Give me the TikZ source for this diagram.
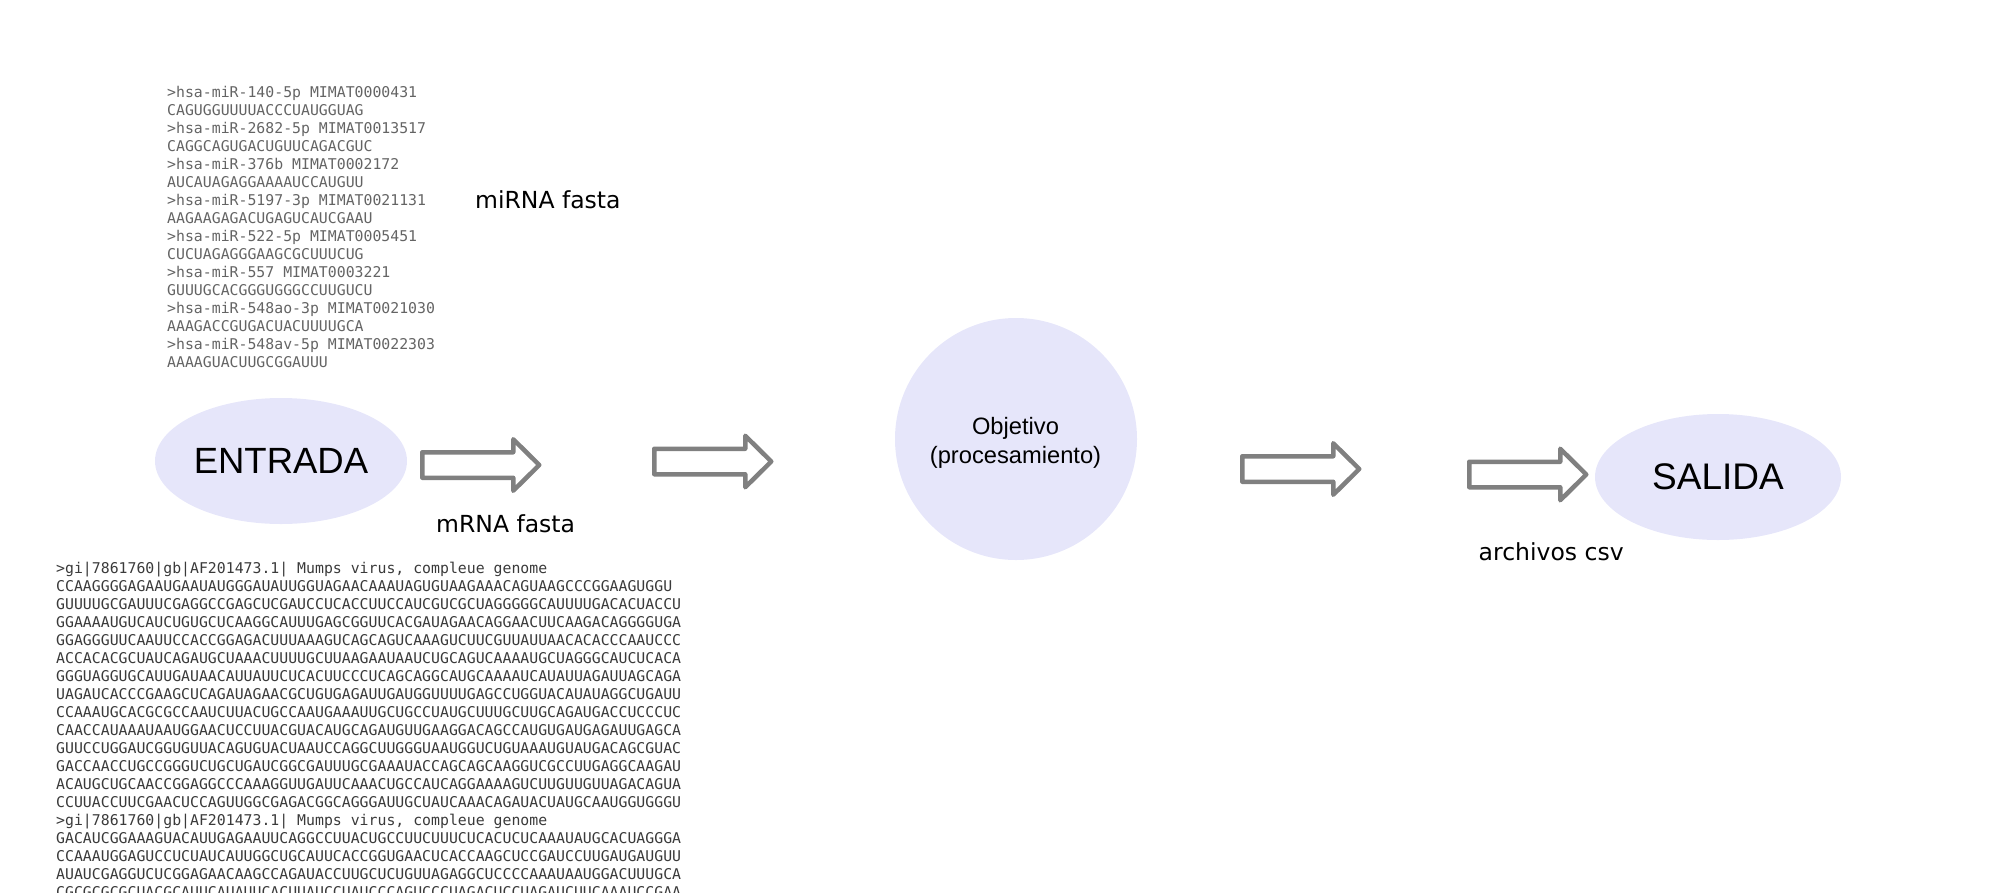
\documentclass[tikz,border=0pt]{standalone}
\usepackage{fontspec}
\setmainfont{Liberation Sans}
\newfontfamily\monof{DejaVu Sans Mono}
\newfontfamily\labf{DejaVu Sans}
\newfontfamily\arialf{Liberation Sans}
\usetikzlibrary{shapes.geometric}
\definecolor{lav}{RGB}{230,230,250}
\definecolor{arrgray}{RGB}{128,128,128}
\definecolor{mirgray}{RGB}{100,100,100}
\definecolor{mrgray}{RGB}{58,58,58}
\tikzset{
  mir/.style={anchor=base west, inner sep=0pt, font=\monof\fontsize{14.83}{18}\selectfont, text=mirgray},
  mr/.style={anchor=base west, inner sep=0pt, font=\monof\fontsize{14.83}{18}\selectfont, text=mrgray},
  lab/.style={anchor=base west, inner sep=0pt, font=\labf\fontsize{23.5}{28}\selectfont, text=black},
  blob/.style={ellipse, fill=lav, inner sep=0pt},
  bigtext/.style={font=\arialf\fontsize{36.5}{40}\selectfont, text=black},
  objtextstyle/.style={align=center, inner sep=0pt, font=\arialf\fontsize{23.7}{29}\selectfont, text=black},
  arrowline/.style={draw=arrgray, line width=4.5pt, line join=round},
  blockarrow/.pic={\draw[arrowline] (0,-12.75) -- (91,-12.75) -- (91,-25.75) -- (117,0) -- (91,25.75) -- (91,12.75) -- (0,12.75) -- cycle;}
}
\begin{document}
\begin{tikzpicture}[x=1pt,y=-1pt]
\useasboundingbox (0,0) rectangle (2000,892);
\clip (0,0) rectangle (2000,892);

% miRNA fasta block
\foreach \t [count=\i from 0] in {
{>hsa-miR-140-5p MIMAT0000431},
{CAGUGGUUUUACCCUAUGGUAG},
{>hsa-miR-2682-5p MIMAT0013517},
{CAGGCAGUGACUGUUCAGACGUC},
{>hsa-miR-376b MIMAT0002172},
{AUCAUAGAGGAAAAUCCAUGUU},
{>hsa-miR-5197-3p MIMAT0021131},
{AAGAAGAGACUGAGUCAUCGAAU},
{>hsa-miR-522-5p MIMAT0005451},
{CUCUAGAGGGAAGCGCUUUCUG},
{>hsa-miR-557 MIMAT0003221},
{GUUUGCACGGGUGGGCCUUGUCU},
{>hsa-miR-548ao-3p MIMAT0021030},
{AAAGACCGUGACUACUUUUGCA},
{>hsa-miR-548av-5p MIMAT0022303},
{AAAAGUACUUGCGGAUUU}}
  \node[mir] (mi\i) at (167,{97+18*\i}) {\t};

% mRNA fasta block
\foreach \t [count=\i from 0] in {
{>gi|7861760|gb|AF201473.1| Mumps virus, compleue genome},
{CCAAGGGGAGAAUGAAUAUGGGAUAUUGGUAGAACAAAUAGUGUAAGAAACAGUAAGCCCGGAAGUGGU},
{GUUUUGCGAUUUCGAGGCCGAGCUCGAUCCUCACCUUCCAUCGUCGCUAGGGGGCAUUUUGACACUACCU},
{GGAAAAUGUCAUCUGUGCUCAAGGCAUUUGAGCGGUUCACGAUAGAACAGGAACUUCAAGACAGGGGUGA},
{GGAGGGUUCAAUUCCACCGGAGACUUUAAAGUCAGCAGUCAAAGUCUUCGUUAUUAACACACCCAAUCCC},
{ACCACACGCUAUCAGAUGCUAAACUUUUGCUUAAGAAUAAUCUGCAGUCAAAAUGCUAGGGCAUCUCACA},
{GGGUAGGUGCAUUGAUAACAUUAUUCUCACUUCCCUCAGCAGGCAUGCAAAAUCAUAUUAGAUUAGCAGA},
{UAGAUCACCCGAAGCUCAGAUAGAACGCUGUGAGAUUGAUGGUUUUGAGCCUGGUACAUAUAGGCUGAUU},
{CCAAAUGCACGCGCCAAUCUUACUGCCAAUGAAAUUGCUGCCUAUGCUUUGCUUGCAGAUGACCUCCCUC},
{CAACCAUAAAUAAUGGAACUCCUUACGUACAUGCAGAUGUUGAAGGACAGCCAUGUGAUGAGAUUGAGCA},
{GUUCCUGGAUCGGUGUUACAGUGUACUAAUCCAGGCUUGGGUAAUGGUCUGUAAAUGUAUGACAGCGUAC},
{GACCAACCUGCCGGGUCUGCUGAUCGGCGAUUUGCGAAAUACCAGCAGCAAGGUCGCCUUGAGGCAAGAU},
{ACAUGCUGCAACCGGAGGCCCAAAGGUUGAUUCAAACUGCCAUCAGGAAAAGUCUUGUUGUUAGACAGUA},
{CCUUACCUUCGAACUCCAGUUGGCGAGACGGCAGGGAUUGCUAUCAAACAGAUACUAUGCAAUGGUGGGU},
{>gi|7861760|gb|AF201473.1| Mumps virus, compleue genome},
{GACAUCGGAAAGUACAUUGAGAAUUCAGGCCUUACUGCCUUCUUUCUCACUCUCAAAUAUGCACUAGGGA},
{CCAAAUGGAGUCCUCUAUCAUUGGCUGCAUUCACCGGUGAACUCACCAAGCUCCGAUCCUUGAUGAUGUU},
{AUAUCGAGGUCUCGGAGAACAAGCCAGAUACCUUGCUCUGUUAGAGGCUCCCCAAAUAAUGGACUUUGCA},
{CGCGCGCGCUACGCAUUCAUAUUCACUUAUCCUAUCCCAGUCCCUAGACUCCUAGAUCUUCAAAUCCGAA}}
  \node[mr] (mr\i) at (56,{573.5+18*\i}) {\t};

% main nodes
\node[blob, bigtext, minimum width=252pt, minimum height=126pt] (entrada) at (281,461) {ENTRADA};
\node[circle, fill=lav, minimum size=242pt, inner sep=0pt] (obj) at (1016,439) {};
\node[objtextstyle] (objtxt) at (1015.5,442.4) {Objetivo\\(procesamiento)};
\node[blob, bigtext, font=\arialf\fontsize{37}{40}\selectfont, minimum width=246pt, minimum height=126pt] (salida) at (1718,477) {SALIDA};

% labels
\node[lab] (lmirna) at (475,208) {miRNA fasta};
\node[lab] (lmrna) at (436,532.5) {mRNA fasta};
\node[lab] (lcsv) at (1478.5,560.5) {archivos csv};

% block arrows
\pic (a1) at (422.25,465) {blockarrow};
\pic (a2) at (654.25,461.5) {blockarrow};
\pic (a3) at (1242.25,469) {blockarrow};
\pic (a4) at (1469.25,474.5) {blockarrow};
\end{tikzpicture}
\end{document}
